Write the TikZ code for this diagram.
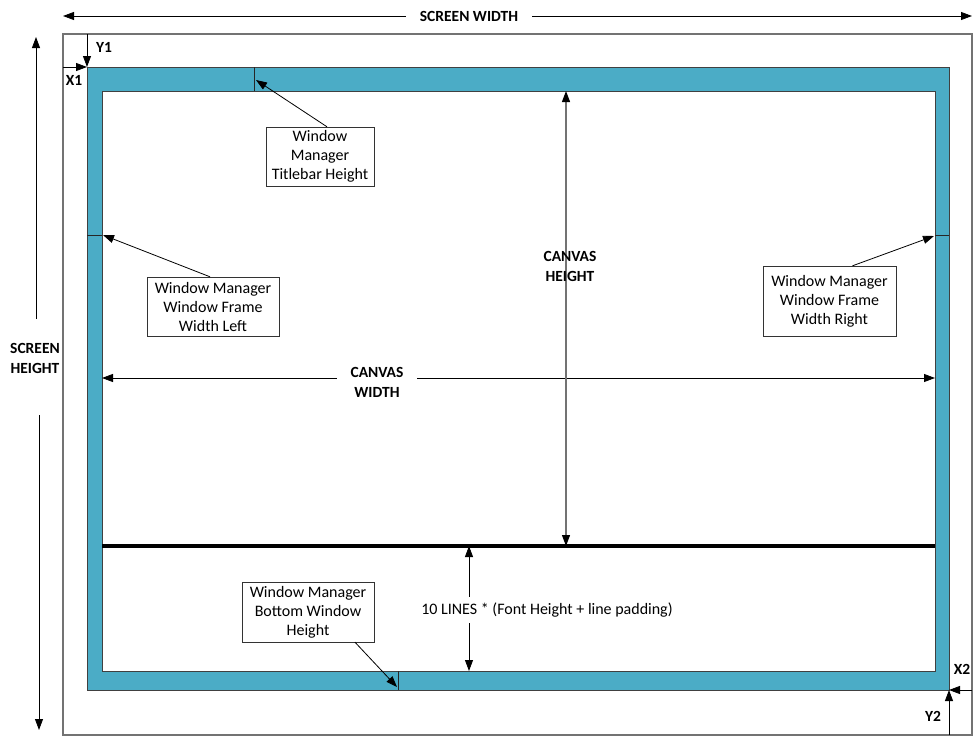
\documentclass[tikz,border=0pt]{standalone}
\usepackage{fontspec}
\setmainfont{Carlito}
\usetikzlibrary{arrows.meta,calc}
\definecolor{frameteal}{HTML}{4BACC6}
\begin{document}
\begin{tikzpicture}[x=1pt,y=-1pt,
  tip/.style={-{Triangle[length=11pt,width=8pt]}},
  dbl/.style={{Triangle[length=11pt,width=8pt]}-{Triangle[length=11pt,width=8pt]}},
  dblk/.style={{Triangle[length=11pt,width=8pt,color=black]}-{Triangle[length=11pt,width=8pt,color=black]}},
  lbl/.style={font=\bfseries\fontsize{15.5}{20}\selectfont, align=center, inner sep=1pt},
  gaplbl/.style={lbl, fill=white, inner sep=5pt},
  box/.style={draw=black!80, fill=white, align=center, font=\fontsize{16}{19}\selectfont, inner sep=0pt},
  conn/.style={black, line width=0.8pt},
  tick/.style={black!85, line width=0.8pt}]
\useasboundingbox (0,0) rectangle (980,736);
% screen
\draw[black!55, line width=1.5pt] (63,34) rectangle (972,735);
% window frame
\fill[frameteal] (87,67) rectangle (949,690);
\draw[black!75, line width=0.8pt] (87,67) rectangle (949,690);
\draw[black!75, line width=0.8pt, fill=white] (102,91) rectangle (935,671);
% markers
\draw[tick] (254,67) -- (254,91);
\draw[tick] (87,235) -- (102,235);
\draw[tick] (935,235) -- (949,235);
\draw[tick] (398,671) -- (398,690);
% coordinates
\coordinate (swl) at (63,16); \coordinate (swr) at (972,16);
\coordinate (sht) at (36,37); \coordinate (shm1) at (36,319);
\coordinate (shm2) at (39,415); \coordinate (shb) at (39,730);
\coordinate (cht) at (566,91); \coordinate (chb) at (566,546);
\coordinate (cwl) at (102,378); \coordinate (cwr) at (935,378);
\coordinate (tlt) at (469,546); \coordinate (tlb) at (469,671);
\coordinate (x1s) at (63,67); \coordinate (x1e) at (87,67);
\coordinate (y1s) at (87,34); \coordinate (y1e) at (87,67);
\coordinate (x2s) at (972,690); \coordinate (x2e) at (949,690);
\coordinate (y2s) at (949,735); \coordinate (y2e) at (949,690);
\coordinate (tbtip) at (256,80);
\coordinate (lftip) at (103,235);
\coordinate (rftip) at (934,236);
\coordinate (bwtip) at (397,687);
\coordinate (sepl) at (102,546); \coordinate (sepr) at (935,546);
% screen dimension arrows
\draw[conn, dbl] (swl) -- (swr);
\node[gaplbl, inner xsep=14pt] (sw) at (469,16) {SCREEN WIDTH};
\draw[conn, tip] (shm1) -- (sht);
\draw[conn, tip] (shm2) -- (shb);
\node[lbl] (sh) at (35,358) {SCREEN\\HEIGHT};
% canvas arrows
\draw[conn, dbl] (cwl) -- (cwr);
\node[gaplbl, inner xsep=14pt] (cw) at (377,382) {CANVAS\\WIDTH};
\draw[black!55, line width=1.2pt, dblk] (cht) -- (chb);
\node[lbl] (ch) at (570,266) {CANVAS\\HEIGHT};
% separator
\draw[black, line width=3.6pt] (sepl) -- (sepr);
% ten lines arrow
\draw[conn, dbl] (tlt) -- (tlb);
\node[fill=white, font=\fontsize{16}{19}\selectfont, inner sep=6pt] (tl) at (547,610) {10 LINES * (Font Height + line padding)};
% offsets
\draw[conn, tip] (x1s) -- (x1e);
\node[lbl] (x1) at (74,80) {X1};
\draw[conn, tip] (y1s) -- (y1e);
\node[lbl] (y1) at (104,47) {Y1};
\draw[conn, tip] (x2s) -- (x2e);
\node[lbl] (x2) at (962,669) {X2};
\draw[conn, tip] (y2s) -- (y2e);
\node[lbl] (y2) at (933,716) {Y2};
% callout boxes
\node[box, minimum width=108pt, minimum height=59pt] (tb) at (320,156.5) {Window\\Manager\\Titlebar Height};
\node[box, minimum width=132pt, minimum height=59pt] (lf) at (213,306.5) {Window Manager\\Window Frame\\Width Left};
\node[box, minimum width=133pt, minimum height=70pt] (rf) at (829.5,301) {Window Manager\\Window Frame\\Width Right};
\node[box, minimum width=132pt, minimum height=60pt] (bw) at (308,612) {Window Manager\\Bottom Window\\Height};
\draw[conn, tip] ($(tb.north)+(7,0)$) -- (tbtip);
\draw[conn, tip] ($(lf.north)+(-3,0)$) -- (lftip);
\draw[conn, tip] ($(rf.north)+(23,0)$) -- (rftip);
\draw[conn, tip] ($(bw.south)+(47,0)$) -- (bwtip);
\end{tikzpicture}
\end{document}
